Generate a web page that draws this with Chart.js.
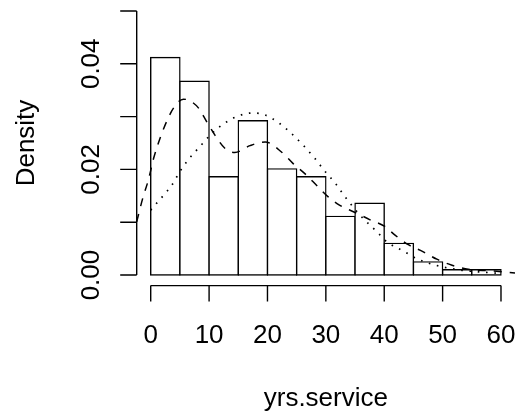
<!DOCTYPE html>
<html>
<head>
<meta charset="utf-8">
<script src="https://cdn.jsdelivr.net/npm/chart.js@4.4.1/dist/chart.umd.min.js"></script>
<style>
  html, body { margin: 0; padding: 0; background: #fff; }
  canvas { display: block; }
</style>
</head>
<body>
<canvas id="hist" width="519" height="413"></canvas>
<script>
// ===== histogram of yrs.service with density + normal curves =====

// histogram bins (midpoints, width 5) and their densities
const binMids = [2.5, 7.5, 12.5, 17.5, 22.5, 27.5, 32.5, 37.5, 42.5, 47.5, 52.5, 57.5];
const binDensity = [0.0412, 0.0367, 0.0186, 0.0292, 0.0201, 0.0186, 0.0111, 0.0136, 0.0060, 0.0025, 0.0010, 0.0010];

// kernel density estimate (dashed)
const kdeX = [-2.4, -1.3, -0.4, 0.5, 1.6, 2.7, 3.9, 5.6, 6.7, 8.2, 9.6, 11.0, 12.7, 14.4, 17.0, 19.6, 22.4, 24.4, 26.4, 28.4, 30.4, 32.4, 35.3, 37.5, 40.1, 41.8, 44.2, 46.7, 49.0, 51.5, 54.4, 58.1, 62.4];
const kdeY = [0.0101, 0.0148, 0.0180, 0.0221, 0.0259, 0.0290, 0.0316, 0.0333, 0.0330, 0.0316, 0.0290, 0.0265, 0.0240, 0.0232, 0.0245, 0.0252, 0.0233, 0.0211, 0.0192, 0.0170, 0.0148, 0.0132, 0.0117, 0.0105, 0.0092, 0.0076, 0.0057, 0.0044, 0.0030, 0.0019, 0.0011, 0.0008, 0.0004];

// normal curve (dotted)
const normX = [0, 0.7, 2.2, 3.6, 5.0, 6.4, 8.4, 10.2, 12.2, 14.7, 17.6, 19.6, 22.1, 24.1, 26.1, 28.1, 29.8, 31.6, 33.3, 35.8, 39.0, 40.1, 43.5, 45.8, 49.0, 53.3, 57.5, 60.0];
const normY = [0.0123, 0.0132, 0.0151, 0.0170, 0.0196, 0.0218, 0.0243, 0.0265, 0.0284, 0.0300, 0.0307, 0.0303, 0.0287, 0.0268, 0.0246, 0.0221, 0.0197, 0.0174, 0.0148, 0.0114, 0.0079, 0.0066, 0.0044, 0.0030, 0.0018, 0.0009, 0.0005, 0.0003];

// axis ticks
const xTicks = [0, 10, 20, 30, 40, 50, 60];
const xTickLabels = ['0', '10', '20', '30', '40', '50', '60'];
const yTicks = [0, 0.01, 0.02, 0.03, 0.04, 0.05];
const yTickLabels = ['0.00', '', '0.02', '', '0.04', ''];
const xTitle = 'yrs.service';
const yTitle = 'Density';

const FONT = '26px "Liberation Sans", Arial, Helvetica, sans-serif';

// R style axes: lines only across the tick range, outside ticks, rotated y labels
const rAxes = {
    id: 'rAxes',
    afterDraw(chart) {
        const { ctx, chartArea, scales: { x, y } } = chart;
        ctx.save();
        ctx.strokeStyle = '#000';
        ctx.fillStyle = '#000';
        ctx.lineWidth = 1.4;
        ctx.font = FONT;

        // x axis
        const ax = chartArea.bottom;
        ctx.beginPath();
        ctx.moveTo(x.getPixelForValue(xTicks[0]), ax);
        ctx.lineTo(x.getPixelForValue(xTicks[xTicks.length - 1]), ax);
        xTicks.forEach(v => {
            const px = x.getPixelForValue(v);
            ctx.moveTo(px, ax);
            ctx.lineTo(px, ax + 16);
        });
        ctx.stroke();
        ctx.textAlign = 'center';
        ctx.textBaseline = 'alphabetic';
        xTicks.forEach((v, i) => ctx.fillText(xTickLabels[i], x.getPixelForValue(v), 343));
        ctx.fillText(xTitle, (chartArea.left + chartArea.right) / 2, 406);

        // y axis
        const ay = chartArea.left;
        ctx.beginPath();
        ctx.moveTo(ay, y.getPixelForValue(yTicks[0]));
        ctx.lineTo(ay, y.getPixelForValue(yTicks[yTicks.length - 1]));
        yTicks.forEach(v => {
            const py = y.getPixelForValue(v);
            ctx.moveTo(ay, py);
            ctx.lineTo(ay - 16.5, py);
        });
        ctx.stroke();
        yTicks.forEach((v, i) => {
            if (!yTickLabels[i]) return;
            ctx.save();
            ctx.translate(99, y.getPixelForValue(v));
            ctx.rotate(-Math.PI / 2);
            ctx.fillText(yTickLabels[i], 0, 0);
            ctx.restore();
        });
        ctx.save();
        ctx.translate(34, (chartArea.top + chartArea.bottom) / 2);
        ctx.rotate(-Math.PI / 2);
        ctx.fillText(yTitle, 0, 0);
        ctx.restore();

        ctx.restore();
    }
};

const toPoints = (xs, ys) => xs.map((v, i) => ({ x: v, y: ys[i] }));

new Chart(document.getElementById('hist'), {
    data: {
        datasets: [
            {
                type: 'line',
                data: toPoints(kdeX, kdeY),
                borderColor: '#000',
                borderWidth: 1.5,
                borderDash: [8, 8],
                pointRadius: 0,
                fill: false,
                cubicInterpolationMode: 'monotone',
                order: 1
            },
            {
                type: 'line',
                data: toPoints(normX, normY),
                borderColor: '#000',
                borderWidth: 1.7,
                borderDash: [1.6, 6.7],
                pointRadius: 0,
                fill: false,
                cubicInterpolationMode: 'monotone',
                order: 2
            },
            {
                type: 'bar',
                data: toPoints(binMids, binDensity),
                backgroundColor: '#fff',
                borderColor: '#000',
                borderWidth: 1.4,
                borderSkipped: false,
                inflateAmount: 0.7,
                barPercentage: 1,
                categoryPercentage: 1,
                order: 3
            }
        ]
    },
    options: {
        responsive: false,
        animation: false,
        devicePixelRatio: 1,
        layout: { padding: { left: 136.7, right: 4, top: 0.4, bottom: 127.4 } },
        plugins: { legend: { display: false }, tooltip: { enabled: false } },
        scales: {
            x: {
                type: 'linear', display: false, offset: false, min: -2.4, max: 62.4,
                ticks: { stepSize: 10, includeBounds: false }
            },
            y: {
                type: 'linear', display: false, min: -0.002, max: 0.052,
                ticks: { stepSize: 0.01, includeBounds: false }
            }
        }
    },
    plugins: [rAxes]
});
</script>
</body>
</html>
